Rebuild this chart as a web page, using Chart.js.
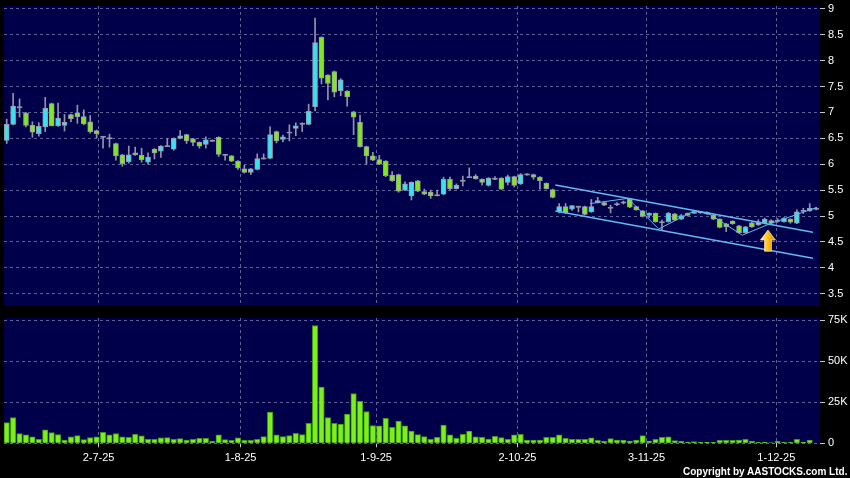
<!DOCTYPE html>
<html>
<head>
<meta charset="utf-8">
<script src="https://cdn.jsdelivr.net/npm/chart.js@4.4.1/dist/chart.umd.min.js"></script>
<style>
  html, body { margin: 0; padding: 0; background: #000; }
  #wrap { position: relative; width: 850px; height: 478px; overflow: hidden; background: #000; }
  canvas { position: absolute; left: 0; }
  #copy { position: absolute; left: 683px; top: 466px; font: bold 10px "Liberation Sans", Arial, sans-serif; color: #fff; white-space: nowrap; }
</style>
</head>
<body>
<div id="wrap">
  <canvas id="priceChart" width="850" height="310" style="top:0"></canvas>
  <canvas id="volChart" width="850" height="168" style="top:310px"></canvas>
  <div id="copy">Copyright by AASTOCKS.com Ltd.</div>
</div>
<script>
// daily candles, one per trading day (mid-June to early Dec 2025)
const openP = [
  6.46, 6.77, 7.10, 6.98, 6.75, 6.59, 6.72, 7.17, 6.74, 6.75,
  6.96, 6.99, 6.92, 6.82, 6.65, 6.53, 6.50, 6.40, 6.18, 6.05,
  6.18, 6.17, 6.04, 6.29, 6.25, 6.35, 6.29, 6.50, 6.57, 6.49,
  6.42, 6.38, 6.45, 6.52, 6.18, 6.16, 6.06, 5.91, 5.84, 5.90,
  6.11, 6.11, 6.63, 6.48, 6.61, 6.69, 6.78, 6.77, 7.11, 8.45,
  7.72, 7.79, 7.42, 7.41, 7.01, 6.81, 6.34, 6.16, 6.09, 6.06,
  5.79, 5.80, 5.50, 5.39, 5.68, 5.47, 5.46, 5.40, 5.42, 5.71,
  5.53, 5.68, 5.75, 5.77, 5.71, 5.59, 5.72, 5.73, 5.65, 5.76,
  5.62, 5.80, 5.80, 5.75, 5.63, 5.51, 5.08, 5.18, 5.13, 5.18,
  5.18, 5.08, 5.26, 5.26, 5.16, 5.23, 5.26, 5.33, 5.18, 5.10,
  5.01, 5.05, 4.88, 4.89, 5.04, 4.94, 5.05, 5.05, 5.07, 5.07,
  5.02, 4.94, 4.85, 4.90, 4.81, 4.68, 4.87, 4.89, 4.86, 4.91,
  4.91, 4.89, 4.94, 4.86, 5.10, 5.10, 5.14
];
const highP = [
  6.87, 7.37, 7.26, 7.00, 6.82, 6.80, 7.29, 7.18, 7.18, 6.96,
  6.97, 7.14, 7.05, 6.94, 6.66, 6.54, 6.58, 6.41, 6.19, 6.35,
  6.33, 6.31, 6.22, 6.30, 6.36, 6.50, 6.51, 6.65, 6.58, 6.50,
  6.43, 6.53, 6.47, 6.53, 6.19, 6.17, 6.07, 5.98, 5.92, 6.20,
  6.20, 6.72, 6.64, 6.56, 6.76, 6.80, 6.80, 7.16, 8.82, 8.46,
  7.73, 7.80, 7.65, 7.42, 7.02, 6.95, 6.35, 6.23, 6.17, 6.07,
  5.86, 5.81, 5.66, 5.66, 5.69, 5.52, 5.50, 5.50, 5.75, 5.75,
  5.62, 5.77, 5.93, 5.80, 5.72, 5.74, 5.76, 5.74, 5.79, 5.77,
  5.82, 5.82, 5.81, 5.76, 5.64, 5.52, 5.24, 5.24, 5.20, 5.19,
  5.19, 5.32, 5.36, 5.27, 5.21, 5.26, 5.29, 5.34, 5.19, 5.11,
  5.06, 5.06, 4.92, 5.07, 5.05, 5.03, 5.06, 5.09, 5.09, 5.08,
  5.03, 4.95, 4.86, 4.91, 4.82, 4.80, 4.88, 4.93, 4.96, 4.93,
  4.95, 4.97, 4.95, 5.12, 5.15, 5.24, 5.17
];
const lowP = [
  6.40, 6.76, 6.91, 6.72, 6.52, 6.54, 6.63, 6.74, 6.73, 6.64,
  6.82, 6.79, 6.76, 6.60, 6.51, 6.31, 6.33, 6.08, 5.96, 6.02,
  6.17, 6.04, 6.00, 6.10, 6.13, 6.34, 6.27, 6.49, 6.40, 6.36,
  6.31, 6.31, 6.44, 6.15, 6.08, 6.05, 5.90, 5.83, 5.80, 5.89,
  6.10, 6.10, 6.41, 6.43, 6.45, 6.55, 6.63, 6.76, 7.03, 7.55,
  7.24, 7.30, 7.32, 7.12, 6.57, 6.33, 6.00, 6.07, 5.99, 5.76,
  5.67, 5.46, 5.49, 5.31, 5.47, 5.41, 5.34, 5.39, 5.41, 5.50,
  5.52, 5.58, 5.74, 5.71, 5.60, 5.58, 5.70, 5.51, 5.60, 5.56,
  5.61, 5.79, 5.71, 5.52, 5.52, 5.35, 5.06, 5.05, 5.11, 5.08,
  5.02, 5.07, 5.25, 5.20, 5.06, 5.20, 5.23, 5.16, 5.11, 4.98,
  4.97, 4.88, 4.73, 4.88, 4.91, 4.93, 5.00, 5.05, 5.05, 5.03,
  4.93, 4.77, 4.70, 4.84, 4.67, 4.67, 4.78, 4.82, 4.85, 4.85,
  4.88, 4.88, 4.86, 4.85, 5.05, 5.09, 5.12
];
const closeP = [
  6.77, 7.12, 7.09, 6.75, 6.62, 6.73, 7.08, 6.74, 6.89, 6.81,
  6.88, 6.92, 6.78, 6.63, 6.59, 6.52, 6.50, 6.16, 6.01, 6.18,
  6.22, 6.09, 6.14, 6.22, 6.35, 6.35, 6.50, 6.55, 6.45, 6.42,
  6.35, 6.47, 6.45, 6.19, 6.18, 6.06, 5.93, 5.84, 5.91, 6.11,
  6.11, 6.57, 6.45, 6.53, 6.61, 6.74, 6.78, 7.02, 8.35, 7.66,
  7.56, 7.39, 7.63, 7.30, 6.91, 6.34, 6.16, 6.08, 6.00, 5.78,
  5.68, 5.48, 5.62, 5.65, 5.48, 5.42, 5.39, 5.40, 5.71, 5.53,
  5.59, 5.68, 5.75, 5.72, 5.65, 5.73, 5.72, 5.52, 5.76, 5.59,
  5.80, 5.80, 5.75, 5.68, 5.53, 5.36, 5.18, 5.06, 5.20, 5.18,
  5.03, 5.18, 5.30, 5.21, 5.16, 5.23, 5.26, 5.17, 5.12, 4.99,
  5.05, 4.89, 4.88, 5.05, 4.92, 5.01, 5.01, 5.08, 5.07, 5.04,
  4.94, 4.78, 4.79, 4.85, 4.68, 4.79, 4.79, 4.83, 4.94, 4.86,
  4.91, 4.96, 4.88, 5.08, 5.10, 5.15, 5.14
];
const volume = [
  12600, 15700, 5900, 5100, 3900, 2400, 8200, 6500, 5300, 2000,
  3900, 4700, 2200, 3500, 3900, 6700, 5100, 5900, 3900, 3700,
  5500, 4500, 2400, 2400, 3300, 3500, 2400, 2900, 2000, 2400,
  3100, 3100, 1200, 5100, 2200, 1800, 3300, 1800, 1800, 2400,
  4100, 19000, 5100, 4100, 4700, 6100, 5300, 12200, 71900, 34400,
  15700, 12200, 11800, 17900, 30400, 25700, 19400, 10800, 10600, 15300,
  9800, 13500, 10600, 7500, 5300, 4100, 2400, 3700, 11200, 5100,
  3100, 5500, 7500, 3900, 3700, 2600, 4300, 3500, 2400, 5100,
  5500, 2000, 2000, 2000, 3700, 3700, 5100, 3100, 2400, 2400,
  2400, 3300, 1800, 1200, 2900, 2000, 2000, 1400, 2000, 4700,
  1400, 2400, 3700, 3900, 1600, 1200, 800, 1000, 800, 800,
  600, 1800, 1800, 1800, 2000, 2400, 1200, 600, 800, 400,
  1200, 600, 600, 2400, 800, 2000, 0
];

// date ticks (position in trading-day index) and their labels
const tickIdx = [14.3, 36.4, 57.5, 79.5, 99.6, 119.8];
const tickLabels = ['2-7-25', '1-8-25', '1-9-25', '2-10-25', '3-11-25', '1-12-25'];
const priceTicks = [3.5, 4, 4.5, 5, 5.5, 6, 6.5, 7, 7.5, 8, 8.5, 9];
const volTicks = [0, 25000, 50000, 75000];

// drawn trend channel and zigzag: [index, price]
const channelTop = [[85.4, 5.60], [125.5, 4.685]];
const channelBottom = [[85.4, 5.097], [125.5, 4.183]];
const zigzag = [[90.8, 5.24], [96.7, 5.34], [101.5, 4.75], [107.0, 5.10], [109.5, 5.03], [114.5, 4.63], [118.8, 4.85], [126.1, 5.165]];
// yellow arrow: [index, tip price, tail price]
const arrowAt = [118.5, 4.73, 4.32];

const NAVY = '#00004a';
const GRID = '#60609a';
const UP = '#3ae2f0';
const DOWN = '#80e81e';
const FLAT = '#a0a0b4';
const LINE = '#62b8f0';

Chart.defaults.font.family = '"Liberation Sans", Arial, sans-serif';
Chart.defaults.font.size = 11;
Chart.defaults.color = '#ffffff';
Chart.defaults.animation = false;

const idx = openP.map((_, i) => i);
const xMin = -0.42, xMax = 126.6;

// keep the plot area where it is: no extra room for edge labels
const noPad = s => { s.paddingTop = 0; s.paddingBottom = 0; s.paddingLeft = 0; s.paddingRight = 0; };

const plotBg = {
  id: 'plotBg',
  beforeDraw(chart) {
    const { ctx, chartArea: a } = chart;
    ctx.save();
    ctx.fillStyle = NAVY;
    ctx.fillRect(a.left, a.top, a.right - a.left, a.bottom - a.top);
    ctx.restore();
  }
};

const arrowPlugin = {
  id: 'arrow',
  afterDatasetsDraw(chart) {
    const { ctx, scales: { x, y } } = chart;
    const px = x.getPixelForValue(arrowAt[0]);
    const tip = y.getPixelForValue(arrowAt[1]);
    const tail = y.getPixelForValue(arrowAt[2]);
    const headH = 10, headW = 7.5, shaftW = 3.5;
    const g = ctx.createLinearGradient(px - headW, 0, px + headW, 0);
    g.addColorStop(0, '#fff2a8');
    g.addColorStop(0.45, '#ffc824');
    g.addColorStop(1, '#d68a00');
    ctx.save();
    ctx.beginPath();
    ctx.moveTo(px, tip);
    ctx.lineTo(px + headW, tip + headH);
    ctx.lineTo(px + shaftW, tip + headH);
    ctx.lineTo(px + shaftW, tail);
    ctx.lineTo(px - shaftW, tail);
    ctx.lineTo(px - shaftW, tip + headH);
    ctx.lineTo(px - headW, tip + headH);
    ctx.closePath();
    ctx.fillStyle = g;
    ctx.fill();
    ctx.strokeStyle = 'rgba(255,240,190,0.8)';
    ctx.lineWidth = 0.8;
    ctx.stroke();
    ctx.restore();
  }
};

const wicks = idx.map(i => ({ x: i, y: [lowP[i], highP[i]] }));
const bodies = idx.map(i => {
  const o = openP[i], c = closeP[i];
  return { x: i, y: Math.abs(c - o) < 0.015 ? [o - 0.012, o + 0.012] : [o, c] };
});
const bodyColors = idx.map(i => {
  const d = closeP[i] - openP[i];
  return Math.abs(d) < 0.015 ? FLAT : (d > 0 ? UP : DOWN);
});
const pts = arr => arr.map(p => ({ x: p[0], y: p[1] }));

const xGrid = {
  type: 'linear', min: xMin, max: xMax, offset: false,
  afterBuildTicks: s => { s.ticks = tickIdx.map(v => ({ value: v })); },
  border: { display: false, dash: [3, 3] }
};

new Chart(document.getElementById('priceChart'), {
  type: 'bar',
  data: {
    datasets: [
      { data: wicks, backgroundColor: '#9494a8', barThickness: 1, grouped: false, order: 3 },
      { data: bodies, backgroundColor: bodyColors, borderColor: '#9a9aae', borderWidth: 1,
        borderSkipped: false, barThickness: 5, grouped: false, order: 2 },
      { type: 'line', data: pts(channelTop), borderColor: LINE, borderWidth: 1.5, pointRadius: 0, order: 1 },
      { type: 'line', data: pts(channelBottom), borderColor: LINE, borderWidth: 1.5, pointRadius: 0, order: 1 },
      { type: 'line', data: pts(zigzag), borderColor: LINE, borderWidth: 1, pointRadius: 0, tension: 0, order: 1 }
    ]
  },
  options: {
    responsive: false,
    layout: { autoPadding: false, padding: { left: 4, top: 6, bottom: 4, right: 0 } },
    plugins: { legend: { display: false }, tooltip: { enabled: false } },
    scales: {
      x: { ...xGrid, grid: { color: GRID, drawTicks: false, offset: false },
        ticks: { display: false }, afterFit: s => { s.height = 0; noPad(s); } },
      y: {
        position: 'right', min: 3.263, max: 9.054,
        afterBuildTicks: s => { s.ticks = priceTicks.map(v => ({ value: v })); },
        afterFit: s => { s.width = 30; noPad(s); },
        border: { display: false, dash: [3, 3] },
        grid: { color: GRID, tickColor: '#c8c8c8', tickLength: 5, tickBorderDash: [] },
        ticks: { padding: 3, callback: v => String(v) }
      }
    }
  },
  plugins: [plotBg, arrowPlugin]
});

new Chart(document.getElementById('volChart'), {
  type: 'bar',
  data: {
    datasets: [
      { data: idx.map(i => ({ x: i, y: volume[i] })), backgroundColor: '#7cf01c',
        borderColor: '#3f9410', borderWidth: 1, borderSkipped: 'bottom', barThickness: 5.5 }
    ]
  },
  options: {
    responsive: false,
    layout: { autoPadding: false, padding: { left: 4, top: 8, bottom: 0, right: 0 } },
    plugins: { legend: { display: false }, tooltip: { enabled: false } },
    scales: {
      x: {
        ...xGrid,
        grid: { color: GRID, offset: false, drawTicks: true, tickLength: 4, tickColor: '#c8c8c8', tickBorderDash: [] },
        ticks: { padding: 4, maxRotation: 0, autoSkip: false,
          callback: v => tickLabels[tickIdx.indexOf(v)] },
        afterFit: s => { s.height = 34.7; noPad(s); }
      },
      y: {
        position: 'right', min: 0, max: 76500,
        afterBuildTicks: s => { s.ticks = volTicks.map(v => ({ value: v })); },
        afterFit: s => { s.width = 30; noPad(s); },
        border: { display: false, dash: [3, 3] },
        grid: { color: GRID, tickColor: '#c8c8c8', tickLength: 5, tickBorderDash: [] },
        ticks: { padding: 3, callback: v => v === 0 ? '0' : (v / 1000) + 'K' }
      }
    }
  },
  plugins: [plotBg]
});
</script>
</body>
</html>
